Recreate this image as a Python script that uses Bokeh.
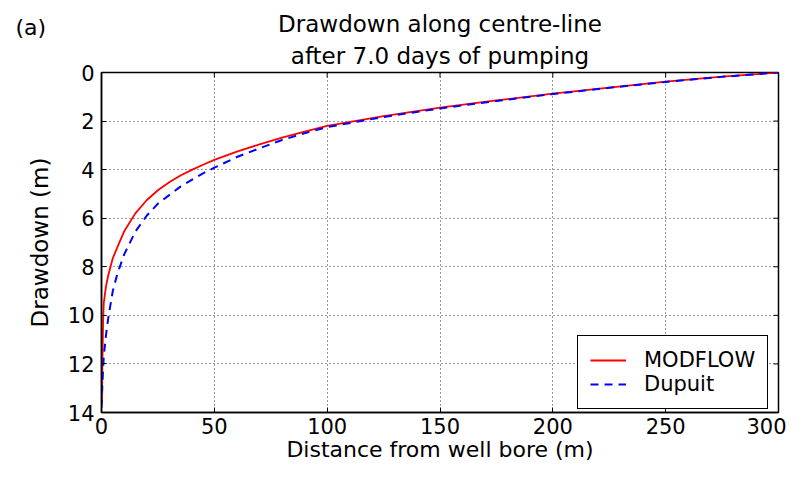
import math
from bokeh.plotting import figure
from bokeh.models import Range1d, Title, Legend, LegendItem, FixedTicker
from bokeh.embed import file_html
from bokeh.resources import INLINE

# ---- data ----
distance_modflow = [0.2, 0.4, 0.7, 1, 2, 3, 5, 7, 10, 15, 20, 25, 30, 35, 40, 45, 50, 60, 70, 80,
                    90, 100, 125, 150, 175, 200, 225, 250, 275, 300]
drawdown_modflow = [13.6, 12.0, 10.3, 9.5, 8.8, 8.35, 7.65, 7.2, 6.55, 5.8, 5.26, 4.85, 4.52,
                    4.24, 4.01, 3.8, 3.6, 3.26, 2.96, 2.68, 2.43, 2.2, 1.8, 1.45, 1.15, 0.87,
                    0.62, 0.38, 0.17, 0.0]
distance_dupuit = [0.0, 0.5, 1, 2, 3, 5, 7, 10, 15, 20, 25, 30, 35, 40, 45, 50, 60, 70, 80,
                   90, 100, 125, 150, 175, 200, 225, 250, 275, 300]
drawdown_dupuit = [13.8, 12.6, 11.7, 10.8, 10.1, 9.0, 8.3, 7.5, 6.55, 5.9, 5.4, 5.05, 4.7,
                   4.42, 4.15, 3.92, 3.48, 3.12, 2.78, 2.5, 2.25, 1.83, 1.48, 1.17, 0.89,
                   0.63, 0.39, 0.18, 0.0]
x_ticks = [0, 50, 100, 150, 200, 250, 300]
y_ticks = [0, 2, 4, 6, 8, 10, 12, 14]
title_line1 = "Drawdown along centre-line"
title_line2 = "after 7.0 days of pumping"
panel_tag = "(a)"
x_label = "Distance from well bore (m)"
y_label = "Drawdown (m)"
series_names = ["MODFLOW", "Dupuit"]

FONT = "DejaVu Sans"

p = figure(width=786, height=468, output_backend="svg", toolbar_location=None,
           x_range=Range1d(x_ticks[0], x_ticks[-1]), y_range=Range1d(y_ticks[-1], y_ticks[0]),
           min_border_left=101, min_border_right=8, min_border_top=72, min_border_bottom=56,
           background_fill_color="white", border_fill_color="white")
p.title.visible = False

p.outline_line_color = "black"
p.outline_line_width = 1.5

for ax in (p.xaxis[0], p.yaxis[0]):
    ax.major_tick_in = 5
    ax.major_tick_out = 0
    ax.minor_tick_line_color = None
    ax.axis_line_color = "black"
    ax.axis_line_width = 1.5
    ax.major_tick_line_color = "black"
    ax.major_tick_line_width = 1
    ax.major_label_text_font = FONT
    ax.major_label_text_font_size = "21px"
    ax.major_label_text_color = "black"
    ax.axis_label_text_font = FONT
    ax.axis_label_text_font_size = "22px"
    ax.axis_label_text_font_style = "normal"
    ax.axis_label_text_color = "black"

p.yaxis[0].axis_label_text_font_size = "23px"
p.xaxis[0].ticker = FixedTicker(ticks=x_ticks)
p.yaxis[0].ticker = FixedTicker(ticks=y_ticks)
p.xaxis[0].axis_label = x_label
p.yaxis[0].axis_label = y_label
p.xaxis[0].major_label_standoff = 5
p.yaxis[0].major_label_standoff = 7
p.xaxis[0].axis_label_standoff = 0
p.yaxis[0].axis_label_standoff = 12

p.grid.grid_line_color = "black"
p.grid.grid_line_dash = "1 3"
p.grid.grid_line_alpha = 0.8
p.grid.grid_line_width = 1
p.xgrid.ticker = FixedTicker(ticks=x_ticks)
p.ygrid.ticker = FixedTicker(ticks=y_ticks)

# mirrored inward ticks on the top and right edges of the frame
p.ray(x=x_ticks, y=[y_ticks[0]] * len(x_ticks), length=5, length_units="screen",
      angle=-math.pi / 2, line_color="black", line_width=1)
p.ray(x=[x_ticks[-1]] * len(y_ticks), y=y_ticks, length=5, length_units="screen",
      angle=math.pi, line_color="black", line_width=1)

r1 = p.line(distance_modflow, drawdown_modflow, line_color="#ff0000", line_width=1.8)
r2 = p.line(distance_dupuit, drawdown_dupuit, line_color="#0000ff", line_width=2,
            line_dash="8 6")

legend = Legend(items=[LegendItem(label=series_names[0], renderers=[r1]),
                       LegendItem(label=series_names[1], renderers=[r2])],
                location=(476, 3), border_line_color="black", border_line_width=1.5,
                border_line_alpha=1, background_fill_color="white", background_fill_alpha=1,
                label_text_font=FONT, label_text_font_size="21px", label_text_color="black",
                glyph_width=36, glyph_height=22, label_height=22, label_standoff=18,
                padding=12, spacing=0, margin=0)
p.add_layout(legend, "center")

t2 = Title(text=title_line2, align="center", text_font=FONT, text_font_size="23px",
           text_font_style="normal", text_color="black", standoff=8)
t1 = Title(text=title_line1, align="center", text_font=FONT, text_font_size="23px",
           text_font_style="normal", text_color="black", standoff=0)
# panel tag shares the row of the first title line (negative standoff pulls it down)
ta = Title(text=panel_tag, align="left", offset=-86, text_font=FONT, text_font_size="22px",
           text_font_style="normal", text_color="black", standoff=-62)
p.add_layout(t2, "above")
p.add_layout(t1, "above")
p.add_layout(ta, "above")

open("out.html", "w").write(file_html(p, INLINE))
